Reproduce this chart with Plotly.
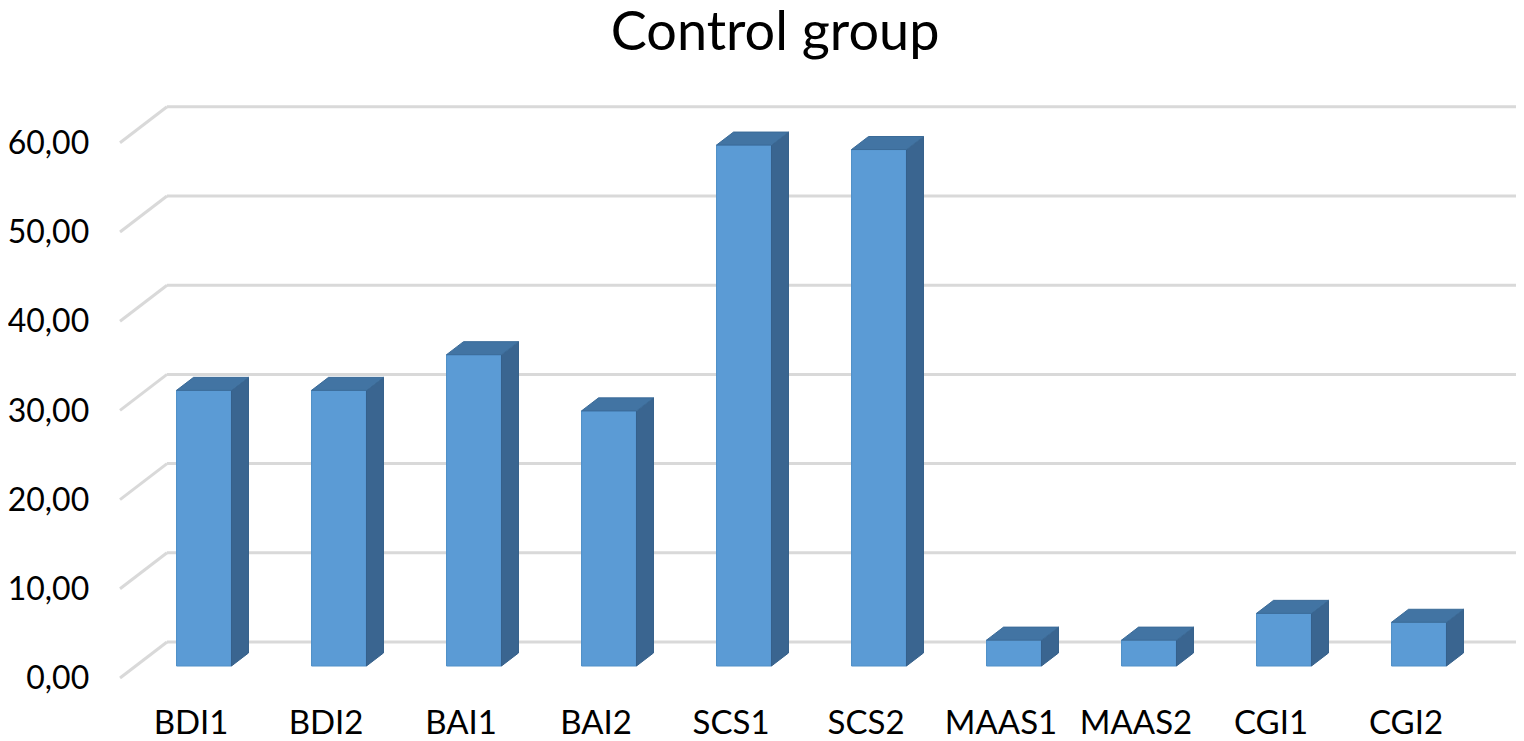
import plotly.graph_objects as go

categories = ["BDI1", "BDI2", "BAI1", "BAI2", "SCS1", "SCS2", "MAAS1", "MAAS2", "CGI1", "CGI2"]
values = [30.9, 30.9, 34.9, 28.6, 58.4, 57.9, 2.9, 2.9, 5.9, 4.9]
grid_values = [0, 10, 20, 30, 40, 50, 60]
grid_labels = ["0,00", "10,00", "20,00", "30,00", "40,00", "50,00", "60,00"]

# pseudo 3d geometry (data units: 1 x unit = one category, y in values)
bar_w = 0.407
depth_dx = 0.126
depth_dy = 1.46
wall_dy = 2.69      # back wall offset above the bar front plane
side_dy = -1.345    # front edge of the side wall
side_x0 = -0.622
wall_x0 = -0.274
wall_x1 = 9.77

front = "#5b9bd5"
top_col = "#4274a3"
side_col = "#3a6590"

# page has an 8px body margin, so the figure is a bit smaller
W, H = 1516, 733
x_origin = 196     # pixel of first category centre
y_origin = 658     # pixel of value 0 on the bar fronts
px_x = 135
px_y = 8.92

x = list(range(len(categories)))

fig = go.Figure()

# gridlines on the side wall + back wall
shapes = []
for g in grid_values:
    shapes.append(dict(type="line", xref="x", yref="y", layer="below",
                       x0=side_x0, y0=g + side_dy, x1=wall_x0, y1=g + wall_dy,
                       line=dict(color="#d9d9d9", width=3)))
    shapes.append(dict(type="line", xref="x", yref="y", layer="below",
                       x0=wall_x0, y0=g + wall_dy, x1=wall_x1, y1=g + wall_dy,
                       line=dict(color="#d9d9d9", width=3)))

# side and top faces
for xi, v in zip(x, values):
    r = xi + bar_w / 2
    l = xi - bar_w / 2
    fig.add_trace(go.Scatter(
        x=[r, r + depth_dx, r + depth_dx, r, r],
        y=[0, depth_dy, v + depth_dy, v, 0],
        fill="toself", fillcolor=side_col, mode="lines",
        line=dict(color="#35608a", width=1), hoverinfo="skip", showlegend=False))
    fig.add_trace(go.Scatter(
        x=[l, r, r + depth_dx, l + depth_dx, l],
        y=[v, v, v + depth_dy, v + depth_dy, v],
        fill="toself", fillcolor=top_col, mode="lines",
        line=dict(color="#3b6b98", width=1), hoverinfo="skip", showlegend=False))

# front faces
fig.add_trace(go.Bar(
    x=x, y=values, width=bar_w,
    marker=dict(color=front, line=dict(color="#5090c8", width=1)),
    showlegend=False, hovertemplate="%{text}: %{y:.2f}<extra></extra>",
    text=categories, textposition="none"))

# value axis labels
fig.add_trace(go.Scatter(
    x=[-0.85] * len(grid_values), y=[g + side_dy - 0.35 for g in grid_values],
    mode="text", text=grid_labels, textposition="middle left",
    textfont=dict(family="Lato", size=32, color="#000000"),
    hoverinfo="skip", showlegend=False, cliponaxis=False))

# category labels
fig.add_trace(go.Scatter(
    x=[xi - 0.096 for xi in x], y=[-6.7] * len(x),
    mode="text", text=categories, textposition="middle center",
    textfont=dict(family="Lato", size=33, color="#000000"),
    hoverinfo="skip", showlegend=False, cliponaxis=False))

fig.update_layout(
    width=W, height=H,
    margin=dict(l=0, r=0, t=0, b=0),
    paper_bgcolor="white", plot_bgcolor="white",
    shapes=shapes,
    title=dict(text="Control group", x=0.506, xanchor="center",
               y=0.968, yanchor="middle",
               font=dict(family="Lato", size=54, color="#000000")),
    xaxis=dict(range=[-x_origin / px_x, (W - x_origin) / px_x], visible=False, fixedrange=True),
    yaxis=dict(range=[(y_origin - H) / px_y, y_origin / px_y], visible=False, fixedrange=True),
)

fig.write_html("out.html")
